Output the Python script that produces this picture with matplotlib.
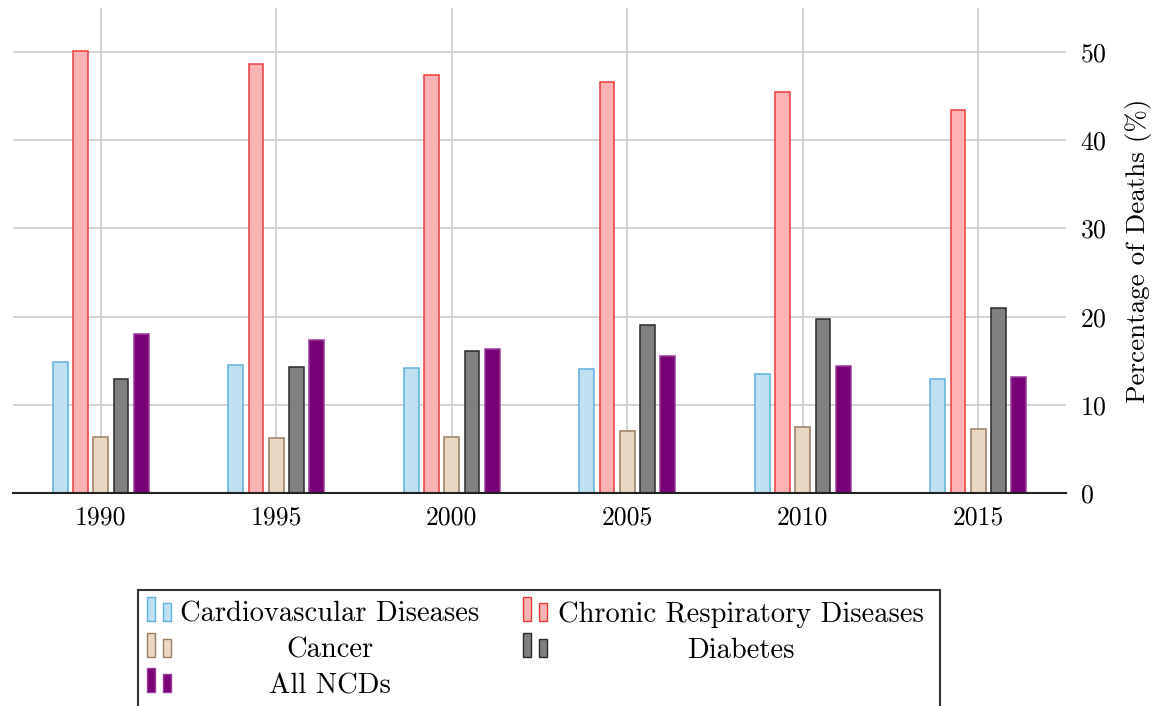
import matplotlib
matplotlib.use("Agg")
import matplotlib.pyplot as plt
from matplotlib.patches import Rectangle
import numpy as np

plt.rcParams['font.family'] = ['cmr10', 'DejaVu Serif']
plt.rcParams['axes.formatter.use_mathtext'] = True
plt.rcParams['mathtext.fontset'] = 'cm'

years = ['1990', '1995', '2000', '2005', '2010', '2015']
cardiovascular = [14.9, 14.5, 14.2, 14.1, 13.55, 12.9]
respiratory = [50.1, 48.7, 47.35, 46.6, 45.5, 43.4]
cancer = [6.3, 6.25, 6.4, 7.0, 7.5, 7.25]
diabetes = [12.95, 14.3, 16.15, 19.05, 19.7, 21.0]
all_ncds = [18.0, 17.35, 16.3, 15.5, 14.45, 13.1]

labels = ['Cardiovascular Diseases', 'Chronic Respiratory Diseases',
          'Cancer', 'Diabetes', 'All NCDs']
series = [cardiovascular, respiratory, cancer, diabetes, all_ncds]
fills = ['#bde1f3', '#fbb3b3', '#ead7c1', '#808080', '#7a0079']
edges = ['#5cb1dc', '#ef3a3a', '#9a7c5e', '#2a2a2a', '#9a3a9a']

W, H = 1161, 706
fig = plt.figure(figsize=(W / 100, H / 100), dpi=100)
ax = fig.add_axes([13 / W, 1 - 493 / H, (1066 - 13) / W, (493 - 8) / H])

x = np.arange(len(years))
step = 0.1155
bw = 0.085
for i, (vals, fc, ec) in enumerate(zip(series, fills, edges)):
    ax.bar(x + (i - 2) * step, vals, width=bw, color=fc, edgecolor=ec,
           linewidth=1.1, zorder=3)

ax.set_xlim(-0.5, 5.5)
ax.set_ylim(0, 55)
ax.set_xticks(x)
ax.set_xticklabels(years)
ax.set_yticks([0, 10, 20, 30, 40, 50])
ax.yaxis.tick_right()
ax.yaxis.set_label_position('right')
ax.set_ylabel('Percentage of Deaths (%)', fontsize=19.5, labelpad=13)
ax.tick_params(axis='both', length=0, labelsize=18.5)
ax.tick_params(axis='x', pad=9)
ax.tick_params(axis='y', pad=10)
ax.grid(True, color='#cccccc', linewidth=1.2, zorder=0)
ax.set_axisbelow(True)
for s in ['top', 'left', 'right']:
    ax.spines[s].set_visible(False)
ax.spines['bottom'].set_color('#222222')
ax.spines['bottom'].set_linewidth(1.5)
ax.spines['bottom'].set_zorder(4)


def px(xp, yp):
    return xp / W, 1 - yp / H


# legend box
bx0, by0 = px(138, 590)
fig.patches.append(Rectangle((bx0, -0.02), (940 - 138) / W, by0 + 0.02,
                             transform=fig.transFigure, fill=False,
                             edgecolor='#333333', linewidth=1.5))

col_img_x = [147, 523]
col_txt_c = [329.5, 740.5]
row_base = [622, 658, 693]
for k, (lab, fc, ec) in enumerate(zip(labels, fills, edges)):
    r, c = divmod(k, 2)
    xb = col_img_x[c]
    yb = row_base[r] - 1
    for dx, hgt in [(0, 24), (16, 18)]:
        x0, y0 = px(xb + dx, yb)
        fig.patches.append(Rectangle((x0, y0), 8 / W, hgt / H,
                                     transform=fig.transFigure,
                                     facecolor=fc, edgecolor=ec, linewidth=1.0))
    tx, ty = px(col_txt_c[c], row_base[r])
    fig.text(tx, ty, lab, ha='center', va='baseline', fontsize=20.5)

fig.savefig('out.png', dpi=100)
